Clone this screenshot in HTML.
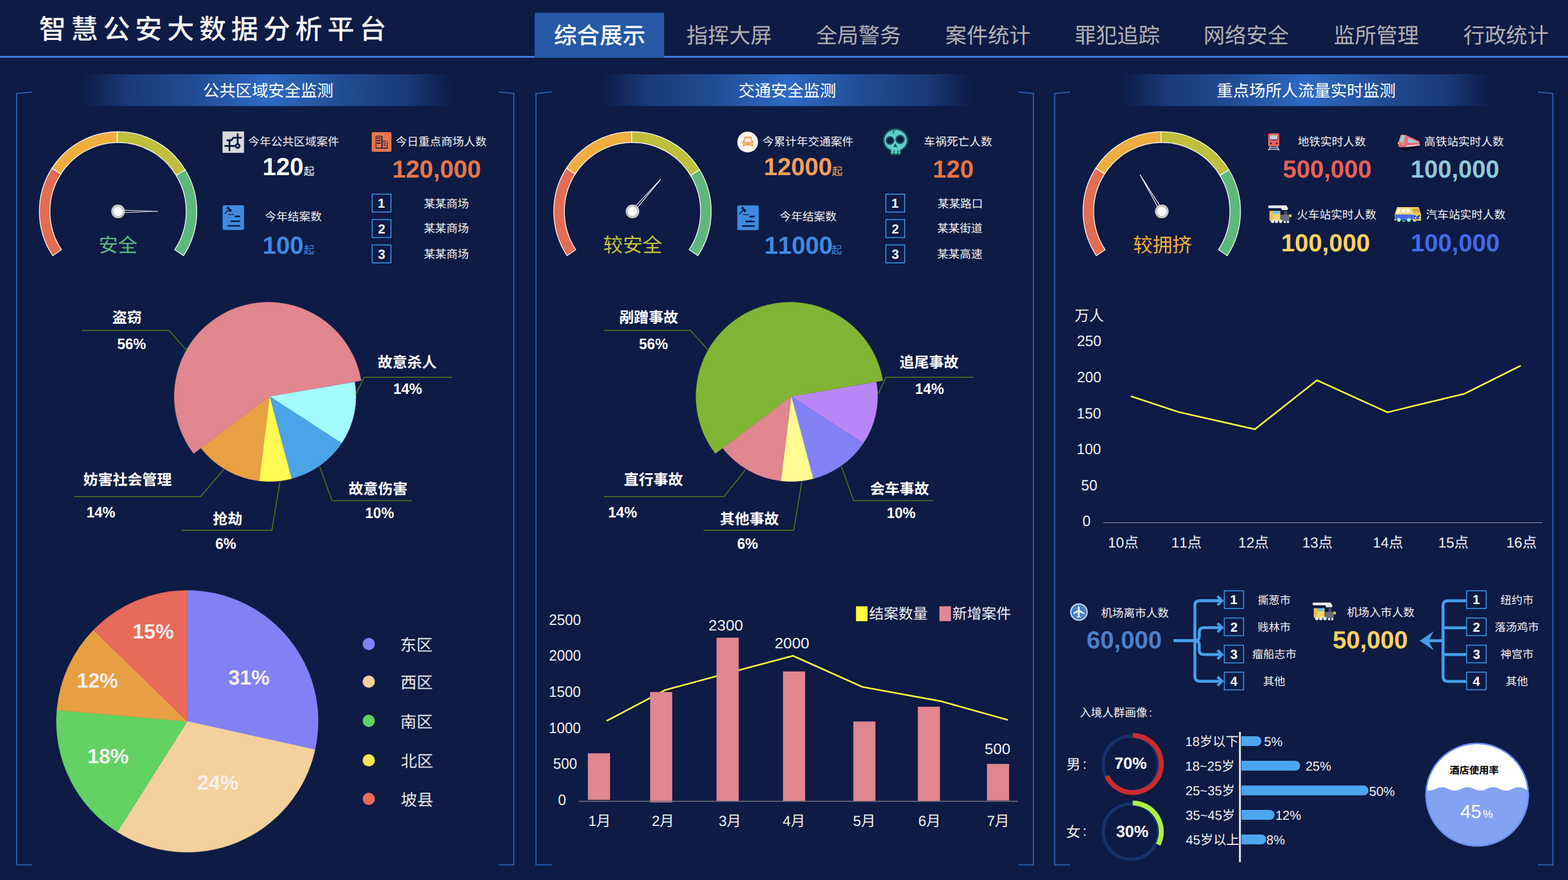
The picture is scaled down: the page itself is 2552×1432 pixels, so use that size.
<!DOCTYPE html>
<html lang="zh-CN"><head><meta charset="utf-8"><title>智慧公安大数据分析平台</title>
<style>
html,body{margin:0;padding:0;background:#0d1b45;}
body{width:2552px;height:1432px;overflow:hidden;font-family:"Liberation Sans","Noto Sans CJK SC",sans-serif;}
svg{display:block;position:absolute;left:0;top:0}
svg text{font-family:"Liberation Sans","Noto Sans CJK SC",sans-serif;font-kerning:none;text-rendering:geometricPrecision;white-space:pre}
</style></head><body>
<svg width="2552" height="1432" viewBox="0 0 2552 1432">
<rect width="2552" height="1432" fill="#0d1b45"/>
<rect x="0" y="91" width="2552" height="3" fill="#3a7be0"/>
<rect x="870.2" y="20.7" width="210.7" height="73.3" fill="#2658a6"/>
<text x="63.42" y="63.20" font-size="44.0" fill="#f6f6f6" font-weight="500" letter-spacing="8.14">智慧公安大数据分析平台</text>
<text x="901.47" y="70.60" font-size="37.3" fill="#ffffff" font-weight="500">综合展示</text>
<text x="1117.33" y="70.20" font-size="34.7" fill="#b1b1b3">指挥大屏</text>
<text x="1327.93" y="70.20" font-size="34.7" fill="#b1b1b3">全局警务</text>
<text x="1538.57" y="70.20" font-size="34.7" fill="#b1b1b3">案件统计</text>
<text x="1748.94" y="70.20" font-size="34.7" fill="#b1b1b3">罪犯追踪</text>
<text x="1958.82" y="70.20" font-size="34.7" fill="#b1b1b3">网络安全</text>
<text x="2170.47" y="70.20" font-size="34.7" fill="#b1b1b3">监所管理</text>
<text x="2381.73" y="70.20" font-size="34.7" fill="#b1b1b3">行政统计</text>
<defs><linearGradient id="band" x1="0" x2="1" y1="0" y2="0"><stop offset="0" stop-color="#2e6ac5" stop-opacity="0"/><stop offset="0.035" stop-color="#2e6ac5" stop-opacity="0.1"/><stop offset="0.12" stop-color="#2e6ac5" stop-opacity="0.38"/><stop offset="0.3" stop-color="#2e6ac5" stop-opacity="0.62"/><stop offset="0.5" stop-color="#2e6ac5" stop-opacity="1"/><stop offset="0.7" stop-color="#2e6ac5" stop-opacity="0.62"/><stop offset="0.88" stop-color="#2e6ac5" stop-opacity="0.38"/><stop offset="0.965" stop-color="#2e6ac5" stop-opacity="0.1"/><stop offset="1" stop-color="#2e6ac5" stop-opacity="0"/></linearGradient></defs>
<path d="M52.5 149.6L27.0 152V1407.3H52.5 M811.8 149.6L836.3 152V1407.3H811.8" fill="none" stroke="#2f63b5" stroke-width="1.8"/>
<rect x="132.5" y="120.8" width="606" height="51.8" fill="url(#band)"/>
<text x="330.46" y="157.10" font-size="26.5" fill="#ffffff">公共区域安全监测</text>
<path d="M897.9 149.6L872.4 152V1407.3H897.9 M1657.4 149.6L1681.9 152V1407.3H1657.4" fill="none" stroke="#2f63b5" stroke-width="1.8"/>
<rect x="978.3" y="120.8" width="606" height="51.8" fill="url(#band)"/>
<text x="1201.82" y="157.10" font-size="26.5" fill="#ffffff">交通安全监测</text>
<path d="M1742.0 149.6L1716.5 152V1407.3H1742.0 M2502.8 149.6L2527.3 152V1407.3H2502.8" fill="none" stroke="#2f63b5" stroke-width="1.8"/>
<rect x="1824.0" y="120.8" width="606" height="51.8" fill="url(#band)"/>
<text x="1980.00" y="157.10" font-size="26.5" fill="#ffffff">重点场所人流量实时监测</text>
<g transform="translate(192.20 344.00) scale(0.9885 1) translate(-192.20 -344.00)">
<path d="M84.50 416.10A129.60 129.60 0 0 1 83.39 273.60L97.99 283.06A112.20 112.20 0 0 0 98.96 406.42Z" fill="#e36d52" stroke="#fff" stroke-width="1.3" stroke-linejoin="miter"/>
<path d="M83.39 273.60A129.60 129.60 0 0 1 190.84 214.41L191.03 231.81A112.20 112.20 0 0 0 97.99 283.06Z" fill="#efad3f" stroke="#fff" stroke-width="1.3" stroke-linejoin="miter"/>
<path d="M190.84 214.41A129.60 129.60 0 0 1 302.82 276.48L287.97 285.54A112.20 112.20 0 0 0 191.03 231.81Z" fill="#bfbf3c" stroke="#fff" stroke-width="1.3" stroke-linejoin="miter"/>
<path d="M302.82 276.48A129.60 129.60 0 0 1 299.90 416.10L285.44 406.42A112.20 112.20 0 0 0 287.97 285.54Z" fill="#5eb87c" stroke="#fff" stroke-width="1.3" stroke-linejoin="miter"/>
</g>
<path d="M198.20 346.00L256.60 344.00L198.20 342.00Z" fill="#080e32" stroke="#fff" stroke-width="1.15" stroke-linejoin="round"/>
<circle cx="192.2" cy="344.0" r="9.3" fill="#fff" stroke="#c6c6c6" stroke-width="3.7"/>
<text x="160.47" y="409.50" font-size="31.6" fill="#5eb87c">安全</text>
<g transform="translate(1029.40 344.00) scale(0.9885 1) translate(-1029.40 -344.00)">
<path d="M921.70 416.10A129.60 129.60 0 0 1 920.59 273.60L935.19 283.06A112.20 112.20 0 0 0 936.16 406.42Z" fill="#e36d52" stroke="#fff" stroke-width="1.3" stroke-linejoin="miter"/>
<path d="M920.59 273.60A129.60 129.60 0 0 1 1028.04 214.41L1028.23 231.81A112.20 112.20 0 0 0 935.19 283.06Z" fill="#efad3f" stroke="#fff" stroke-width="1.3" stroke-linejoin="miter"/>
<path d="M1028.04 214.41A129.60 129.60 0 0 1 1140.02 276.48L1125.17 285.54A112.20 112.20 0 0 0 1028.23 231.81Z" fill="#bfbf3c" stroke="#fff" stroke-width="1.3" stroke-linejoin="miter"/>
<path d="M1140.02 276.48A129.60 129.60 0 0 1 1137.10 416.10L1122.64 406.42A112.20 112.20 0 0 0 1125.17 285.54Z" fill="#5eb87c" stroke="#fff" stroke-width="1.3" stroke-linejoin="miter"/>
</g>
<path d="M1034.86 340.81L1075.20 291.86L1031.86 338.17Z" fill="#080e32" stroke="#fff" stroke-width="1.15" stroke-linejoin="round"/>
<circle cx="1029.4" cy="344.0" r="9.3" fill="#fff" stroke="#c6c6c6" stroke-width="3.7"/>
<text x="981.73" y="409.50" font-size="32.0" fill="#c8c23a">较安全</text>
<g transform="translate(1890.90 344.00) scale(0.9885 1) translate(-1890.90 -344.00)">
<path d="M1783.20 416.10A129.60 129.60 0 0 1 1782.09 273.60L1796.69 283.06A112.20 112.20 0 0 0 1797.66 406.42Z" fill="#e36d52" stroke="#fff" stroke-width="1.3" stroke-linejoin="miter"/>
<path d="M1782.09 273.60A129.60 129.60 0 0 1 1889.54 214.41L1889.73 231.81A112.20 112.20 0 0 0 1796.69 283.06Z" fill="#efad3f" stroke="#fff" stroke-width="1.3" stroke-linejoin="miter"/>
<path d="M1889.54 214.41A129.60 129.60 0 0 1 2001.52 276.48L1986.67 285.54A112.20 112.20 0 0 0 1889.73 231.81Z" fill="#bfbf3c" stroke="#fff" stroke-width="1.3" stroke-linejoin="miter"/>
<path d="M2001.52 276.48A129.60 129.60 0 0 1 1998.60 416.10L1984.14 406.42A112.20 112.20 0 0 0 1986.67 285.54Z" fill="#5eb87c" stroke="#fff" stroke-width="1.3" stroke-linejoin="miter"/>
</g>
<path d="M1889.56 337.82L1855.47 284.33L1886.12 339.86Z" fill="#080e32" stroke="#fff" stroke-width="1.15" stroke-linejoin="round"/>
<circle cx="1890.9" cy="344.0" r="9.3" fill="#fff" stroke="#c6c6c6" stroke-width="3.7"/>
<text x="1843.91" y="409.50" font-size="32.0" fill="#f0ad3c">较拥挤</text>
<text x="404.05" y="237.30" font-size="18.5" fill="#f0f0f0">今年公共区域案件</text>
<text x="427.18" y="285.00" font-size="40.00" fill="#fff" font-weight="700">120</text>
<text x="494.34" y="285.00" font-size="17.6" fill="#fff">起</text>
<text x="431.35" y="358.80" font-size="18.5" fill="#f0f0f0">今年结案数</text>
<text x="427.18" y="413.20" font-size="40.00" fill="#3f8ae0" font-weight="700">100</text>
<text x="494.34" y="413.40" font-size="17.6" fill="#3f8ae0">起</text>
<text x="644.05" y="237.30" font-size="18.5" fill="#f0f0f0">今日重点商场人数</text>
<text x="638.18" y="289.40" font-size="40.00" fill="#e8764a" font-weight="700">120,000</text>
<rect x="605.65" y="315.85" width="30.65" height="29.20" fill="none" stroke="#3d9be8" stroke-width="1.5"/>
<text x="614.71" y="338.05" font-size="21.20" fill="#fff" font-weight="700">1</text>
<text x="689.66" y="337.50" font-size="18.4" fill="#f0f0f0">某某商场</text>
<rect x="605.65" y="357.35" width="30.65" height="29.20" fill="none" stroke="#3d9be8" stroke-width="1.5"/>
<text x="615.14" y="379.55" font-size="21.20" fill="#fff" font-weight="700">2</text>
<text x="689.66" y="378.00" font-size="18.4" fill="#f0f0f0">某某商场</text>
<rect x="605.65" y="398.55" width="30.65" height="29.20" fill="none" stroke="#3d9be8" stroke-width="1.5"/>
<text x="615.22" y="420.75" font-size="21.20" fill="#fff" font-weight="700">3</text>
<text x="689.66" y="419.60" font-size="18.4" fill="#f0f0f0">某某商场</text>
<text x="1241.05" y="237.30" font-size="18.5" fill="#f0f0f0">今累计年交通案件</text>
<text x="1243.08" y="285.30" font-size="40.00" fill="#f0a05a" font-weight="700">12000</text>
<text x="1353.94" y="285.30" font-size="17.6" fill="#f0a05a">起</text>
<text x="1269.05" y="358.80" font-size="18.5" fill="#f0f0f0">今年结案数</text>
<text x="1244.08" y="413.20" font-size="40.00" fill="#3f8ae0" font-weight="700">11000</text>
<text x="1352.94" y="413.40" font-size="17.6" fill="#3f8ae0">起</text>
<text x="1503.67" y="237.30" font-size="18.5" fill="#f0f0f0">车祸死亡人数</text>
<text x="1517.98" y="289.40" font-size="40.00" fill="#e8743f" font-weight="700">120</text>
<rect x="1441.75" y="315.85" width="30.65" height="29.20" fill="none" stroke="#3d9be8" stroke-width="1.5"/>
<text x="1450.81" y="338.05" font-size="21.20" fill="#fff" font-weight="700">1</text>
<text x="1526.00" y="337.50" font-size="18.4" fill="#f0f0f0">某某路口</text>
<rect x="1441.75" y="357.35" width="30.65" height="29.20" fill="none" stroke="#3d9be8" stroke-width="1.5"/>
<text x="1451.24" y="379.55" font-size="21.20" fill="#fff" font-weight="700">2</text>
<text x="1525.21" y="378.00" font-size="18.4" fill="#f0f0f0">某某街道</text>
<rect x="1441.75" y="398.55" width="30.65" height="29.20" fill="none" stroke="#3d9be8" stroke-width="1.5"/>
<text x="1451.32" y="420.75" font-size="21.20" fill="#fff" font-weight="700">3</text>
<text x="1525.21" y="419.60" font-size="18.4" fill="#f0f0f0">某某高速</text>
<text x="2111.89" y="237.30" font-size="18.5" fill="#f0f0f0">地铁实时人数</text>
<text x="2087.77" y="289.30" font-size="40.00" fill="#e86058" font-weight="700">500,000</text>
<text x="2318.11" y="237.30" font-size="18.5" fill="#f0f0f0">高铁站实时人数</text>
<text x="2295.68" y="289.30" font-size="40.00" fill="#8fc8d8" font-weight="700">100,000</text>
<text x="2110.56" y="355.70" font-size="18.5" fill="#f0f0f0">火车站实时人数</text>
<text x="2085.08" y="409.40" font-size="40.00" fill="#fdd15e" font-weight="700">100,000</text>
<text x="2320.82" y="355.70" font-size="18.5" fill="#f0f0f0">汽车站实时人数</text>
<text x="2296.08" y="409.40" font-size="40.00" fill="#4569e8" font-weight="700">100,000</text>
<g transform="translate(438.70 645.00) scale(1.0075 0.9925) translate(-438.70 -645.00)">
<path d="M438.70 645.00L576.16 621.26A139.50 139.50 0 0 1 555.16 721.79Z" fill="#a3fbff" stroke="#a3fbff" stroke-width="0.5"/>
<path d="M438.70 645.00L555.16 721.79A139.50 139.50 0 0 1 474.10 779.93Z" fill="#4ba3e8" stroke="#4ba3e8" stroke-width="0.5"/>
<path d="M438.70 645.00L474.10 779.93A139.50 139.50 0 0 1 421.94 783.49Z" fill="#fffb52" stroke="#fffb52" stroke-width="0.5"/>
<path d="M438.70 645.00L421.94 783.49A139.50 139.50 0 0 1 327.73 729.54Z" fill="#e8a043" stroke="#e8a043" stroke-width="0.5"/>
</g>
<path d="M438.70 645.00L587.70 619.30A153.1 153.1 0 1 0 315.20 738.00Z" fill="#e0878f" stroke="#e0878f" stroke-width="0.5"/>
<polyline points="133.0,537.6 275.0,537.6 303.6,570.0" fill="none" stroke="#4d7020" stroke-width="1.7"/>
<polyline points="579.2,642.2 592.7,613.9 735.4,613.9" fill="none" stroke="#4d7020" stroke-width="1.7"/>
<polyline points="520.1,759.1 540.5,814.7 670.3,814.7" fill="none" stroke="#4d7020" stroke-width="1.7"/>
<polyline points="455.7,783.6 442.5,862.8 295.8,862.8" fill="none" stroke="#4d7020" stroke-width="1.7"/>
<polyline points="364.0,764.4 326.2,808.1 120.4,808.1" fill="none" stroke="#4d7020" stroke-width="1.7"/>
<text x="182.69" y="525.30" font-size="24.0" fill="#fff" font-weight="700">盗窃</text>
<text transform="translate(190.64 568.30) scale(0.9550 1)" font-size="24.60" fill="#fff" font-weight="700">56%</text>
<text x="614.69" y="598.40" font-size="24.0" fill="#fff" font-weight="700">故意杀人</text>
<text transform="translate(639.96 640.60) scale(0.9550 1)" font-size="24.60" fill="#fff" font-weight="700">14%</text>
<text x="567.26" y="803.70" font-size="24.0" fill="#fff" font-weight="700">故意伤害</text>
<text transform="translate(594.26 842.60) scale(0.9550 1)" font-size="24.60" fill="#fff" font-weight="700">10%</text>
<text x="346.45" y="853.00" font-size="24.0" fill="#fff" font-weight="700">抢劫</text>
<text transform="translate(350.50 892.90) scale(0.9550 1)" font-size="24.60" fill="#fff" font-weight="700">6%</text>
<text x="135.62" y="789.30" font-size="24.0" fill="#fff" font-weight="700">妨害社会管理</text>
<text transform="translate(140.66 841.70) scale(0.9550 1)" font-size="24.60" fill="#fff" font-weight="700">14%</text>
<g transform="translate(1287.80 645.00) scale(1.0075 0.9925) translate(-1287.80 -645.00)">
<path d="M1287.80 645.00L1425.26 621.26A139.50 139.50 0 0 1 1404.26 721.79Z" fill="#b986f7" stroke="#b986f7" stroke-width="0.5"/>
<path d="M1287.80 645.00L1404.26 721.79A139.50 139.50 0 0 1 1323.20 779.93Z" fill="#8181f5" stroke="#8181f5" stroke-width="0.5"/>
<path d="M1287.80 645.00L1323.20 779.93A139.50 139.50 0 0 1 1271.04 783.49Z" fill="#fffc92" stroke="#fffc92" stroke-width="0.5"/>
<path d="M1287.80 645.00L1271.04 783.49A139.50 139.50 0 0 1 1176.83 729.54Z" fill="#e0878f" stroke="#e0878f" stroke-width="0.5"/>
</g>
<path d="M1287.80 645.00L1436.80 619.30A153.1 153.1 0 1 0 1164.30 738.00Z" fill="#82b436" stroke="#82b436" stroke-width="0.5"/>
<polyline points="982.4,537.6 1123.8,537.6 1152.7,570.0" fill="none" stroke="#4d7020" stroke-width="1.7"/>
<polyline points="1428.6,642.2 1442.2,613.9 1584.7,613.9" fill="none" stroke="#4d7020" stroke-width="1.7"/>
<polyline points="1369.5,759.1 1389.3,814.7 1519.4,814.7" fill="none" stroke="#4d7020" stroke-width="1.7"/>
<polyline points="1305.0,783.6 1291.9,862.8 1144.8,862.8" fill="none" stroke="#4d7020" stroke-width="1.7"/>
<polyline points="1213.3,764.4 1178.4,808.1 983.0,808.1" fill="none" stroke="#4d7020" stroke-width="1.7"/>
<text x="1007.66" y="525.30" font-size="24.0" fill="#fff" font-weight="700">剐蹭事故</text>
<text transform="translate(1040.04 568.30) scale(0.9550 1)" font-size="24.60" fill="#fff" font-weight="700">56%</text>
<text x="1463.98" y="598.40" font-size="24.0" fill="#fff" font-weight="700">追尾事故</text>
<text transform="translate(1489.36 640.60) scale(0.9550 1)" font-size="24.60" fill="#fff" font-weight="700">14%</text>
<text x="1416.00" y="803.70" font-size="24.0" fill="#fff" font-weight="700">会车事故</text>
<text transform="translate(1443.16 842.60) scale(0.9550 1)" font-size="24.60" fill="#fff" font-weight="700">10%</text>
<text x="1171.68" y="853.00" font-size="24.0" fill="#fff" font-weight="700">其他事故</text>
<text transform="translate(1199.80 892.90) scale(0.9550 1)" font-size="24.60" fill="#fff" font-weight="700">6%</text>
<text x="1015.42" y="789.30" font-size="24.0" fill="#fff" font-weight="700">直行事故</text>
<text transform="translate(989.76 841.70) scale(0.9550 1)" font-size="24.60" fill="#fff" font-weight="700">14%</text>
<path d="M304.80 1173.80L304.80 960.80A213.00 213.00 0 0 1 512.75 1219.90Z" fill="#8181f5" stroke="#8181f5" stroke-width="0.5"/>
<path d="M304.80 1173.80L512.75 1219.90A213.00 213.00 0 0 1 190.98 1353.84Z" fill="#f4d09c" stroke="#f4d09c" stroke-width="0.5"/>
<path d="M304.80 1173.80L190.98 1353.84A213.00 213.00 0 0 1 92.58 1155.61Z" fill="#62d262" stroke="#62d262" stroke-width="0.5"/>
<path d="M304.80 1173.80L92.58 1155.61A213.00 213.00 0 0 1 152.10 1025.30Z" fill="#e89f44" stroke="#e89f44" stroke-width="0.5"/>
<path d="M304.80 1173.80L152.10 1025.30A213.00 213.00 0 0 1 304.80 960.80Z" fill="#e86a5a" stroke="#e86a5a" stroke-width="0.5"/>
<text x="371.63" y="1114.30" font-size="33.60" fill="#f6efef" font-weight="700">31%</text>
<text x="215.66" y="1038.90" font-size="33.60" fill="#f6efef" font-weight="700">15%</text>
<text x="124.96" y="1119.40" font-size="33.60" fill="#f6efef" font-weight="700">12%</text>
<text x="142.26" y="1242.40" font-size="33.60" fill="#f6efef" font-weight="700">18%</text>
<text x="321.14" y="1285.20" font-size="33.60" fill="#f6efef" font-weight="700">24%</text>
<circle cx="600.2" cy="1048.0" r="10" fill="#8181f5"/>
<text x="651.33" y="1058.70" font-size="26.4" fill="#e8e8e8">东区</text>
<circle cx="600.2" cy="1109.3" r="10" fill="#f4d09c"/>
<text x="651.64" y="1120.00" font-size="26.4" fill="#e8e8e8">西区</text>
<circle cx="600.2" cy="1173.0" r="10" fill="#62d262"/>
<text x="651.62" y="1183.70" font-size="26.4" fill="#e8e8e8">南区</text>
<circle cx="600.2" cy="1237.3" r="10" fill="#fbe44e"/>
<text x="652.30" y="1248.00" font-size="26.4" fill="#e8e8e8">北区</text>
<circle cx="600.2" cy="1300.0" r="10" fill="#e86a5a"/>
<text x="652.30" y="1310.70" font-size="26.4" fill="#e8e8e8">坡县</text>
<polyline points="987.2,1173.2 1082.2,1123 1184,1095.5 1290.7,1067.2 1403.5,1117.7 1532,1141.2 1640.2,1171.6" fill="none" stroke="#fffb3f" stroke-width="2.6" stroke-linejoin="miter"/>
<rect x="956.8" y="1225.8" width="36.1" height="75.9" fill="#e0878f"/>
<rect x="1058.1" y="1126.1" width="36.0" height="179.7" fill="#e0878f"/>
<rect x="1166.2" y="1037.7" width="36.1" height="266.2" fill="#e0878f"/>
<rect x="1274.4" y="1092.6" width="36.0" height="211.3" fill="#e0878f"/>
<rect x="1388.8" y="1174.1" width="36.0" height="129.8" fill="#e0878f"/>
<rect x="1493.8" y="1150.0" width="36.0" height="153.9" fill="#e0878f"/>
<rect x="1606.3" y="1243.1" width="36.1" height="59.5" fill="#e0878f"/>
<rect x="942" y="1303.1" width="714.8" height="1.6" fill="#6f6f7c"/>
<text transform="translate(893.57 1017.20) scale(0.9500 1)" font-size="24.60" fill="#f0f0f0">2500</text>
<text transform="translate(893.57 1074.50) scale(0.9500 1)" font-size="24.60" fill="#f0f0f0">2000</text>
<text transform="translate(893.27 1134.20) scale(0.9500 1)" font-size="24.60" fill="#f0f0f0">1500</text>
<text transform="translate(893.27 1192.80) scale(0.9500 1)" font-size="24.60" fill="#f0f0f0">1000</text>
<text transform="translate(900.19 1250.80) scale(0.9500 1)" font-size="24.60" fill="#f0f0f0">500</text>
<text transform="translate(908.30 1309.70) scale(0.9500 1)" font-size="24.60" fill="#f0f0f0">0</text>
<text x="957.42" y="1344.30" font-size="23.50" fill="#f0f0f0">1</text><text x="970.5" y="1344.3" font-size="23.5" fill="#f0f0f0">月</text>
<text x="1060.73" y="1344.30" font-size="23.50" fill="#f0f0f0">2</text><text x="1073.8" y="1344.3" font-size="23.5" fill="#f0f0f0">月</text>
<text x="1169.67" y="1344.30" font-size="23.50" fill="#f0f0f0">3</text><text x="1182.7" y="1344.3" font-size="23.5" fill="#f0f0f0">月</text>
<text x="1273.85" y="1344.30" font-size="23.50" fill="#f0f0f0">4</text><text x="1286.9" y="1344.3" font-size="23.5" fill="#f0f0f0">月</text>
<text x="1388.35" y="1344.30" font-size="23.50" fill="#f0f0f0">5</text><text x="1401.4" y="1344.3" font-size="23.5" fill="#f0f0f0">月</text>
<text x="1494.52" y="1344.30" font-size="23.50" fill="#f0f0f0">6</text><text x="1507.6" y="1344.3" font-size="23.5" fill="#f0f0f0">月</text>
<text x="1606.22" y="1344.30" font-size="23.50" fill="#f0f0f0">7</text><text x="1619.3" y="1344.3" font-size="23.5" fill="#f0f0f0">月</text>
<text transform="translate(1152.89 1026.20) scale(1.0500 1)" font-size="24.20" fill="#f0f0f0">2300</text>
<text transform="translate(1260.69 1055.00) scale(1.0500 1)" font-size="24.20" fill="#f0f0f0">2000</text>
<text transform="translate(1602.59 1226.50) scale(1.0400 1)" font-size="24.20" fill="#f0f0f0">500</text>
<rect x="1393.2" y="986.6" width="18.8" height="24.2" fill="#fffb3f"/>
<rect x="1528.9" y="986.6" width="18.8" height="24.2" fill="#e0878f"/>
<text x="1414.38" y="1006.60" font-size="23.9" fill="#f0f0f0">结案数量</text>
<text x="1549.82" y="1006.60" font-size="23.9" fill="#f0f0f0">新增案件</text>
<text x="1749.09" y="521.90" font-size="23.8" fill="#f0f0f0">万人</text>
<text transform="translate(1752.68 563.20) scale(0.9850 1)" font-size="24.20" fill="#f0f0f0">250</text>
<text transform="translate(1752.68 621.60) scale(0.9850 1)" font-size="24.20" fill="#f0f0f0">200</text>
<text transform="translate(1752.37 680.70) scale(0.9850 1)" font-size="24.20" fill="#f0f0f0">150</text>
<text transform="translate(1752.37 738.60) scale(0.9850 1)" font-size="24.20" fill="#f0f0f0">100</text>
<text transform="translate(1759.43 797.70) scale(0.9850 1)" font-size="24.20" fill="#f0f0f0">50</text>
<text transform="translate(1761.67 856.20) scale(0.9850 1)" font-size="24.20" fill="#f0f0f0">0</text>
<rect x="1795.5" y="850" width="715" height="1.1" fill="#8a8a90"/>
<polyline points="1840.5,644.8 1918.3,670.5 2042.3,698.5 2143.5,618.8 2258.2,670.9 2383.5,640.7 2475.1,595" fill="none" stroke="#fffb3f" stroke-width="2.6"/>
<text x="1803.26" y="891.40" font-size="23.50" fill="#f0f0f0">10</text><text x="1829.4" y="891.4" font-size="23.5" fill="#f0f0f0">点</text>
<text x="1906.16" y="891.40" font-size="23.50" fill="#f0f0f0">11</text><text x="1932.3" y="891.4" font-size="23.5" fill="#f0f0f0">点</text>
<text x="2015.36" y="891.40" font-size="23.50" fill="#f0f0f0">12</text><text x="2041.5" y="891.4" font-size="23.5" fill="#f0f0f0">点</text>
<text x="2119.46" y="891.40" font-size="23.50" fill="#f0f0f0">13</text><text x="2145.6" y="891.4" font-size="23.5" fill="#f0f0f0">点</text>
<text x="2234.16" y="891.40" font-size="23.50" fill="#f0f0f0">14</text><text x="2260.3" y="891.4" font-size="23.5" fill="#f0f0f0">点</text>
<text x="2340.66" y="891.40" font-size="23.50" fill="#f0f0f0">15</text><text x="2366.8" y="891.4" font-size="23.5" fill="#f0f0f0">点</text>
<text x="2451.56" y="891.40" font-size="23.50" fill="#f0f0f0">16</text><text x="2477.7" y="891.4" font-size="23.5" fill="#f0f0f0">点</text>
<text x="1791.88" y="1003.60" font-size="18.4" fill="#f0f0f0">机场离市人数</text>
<text x="1768.54" y="1055.30" font-size="40.00" fill="#4a7fc8" font-weight="700">60,000</text>
<g fill="none" stroke="#459fe8" stroke-width="4.8" stroke-linejoin="round">
<path d="M1910 1042.5H1944.7"/>
<path d="M1987 977.5H1952.7Q1944.7 977.5 1944.7 985.5V1100.6Q1944.7 1108.6 1952.7 1108.6H1987"/>
<path d="M1944.7 1042.5Q1951.8 1042.5 1951.8 1035.5V1029.3Q1951.8 1021.3 1959.8 1021.3H1987M1944.7 1042.5Q1951.8 1042.5 1951.8 1049.5V1057.2Q1951.8 1065.2 1959.8 1065.2H1987"/>
<path d="M1981.6 970.3L1988.8 977.5L1981.6 984.7" stroke-linejoin="miter" stroke-width="4.4"/>
<path d="M1981.6 1014.1L1988.8 1021.3L1981.6 1028.5" stroke-linejoin="miter" stroke-width="4.4"/>
<path d="M1981.6 1058.0L1988.8 1065.2L1981.6 1072.4" stroke-linejoin="miter" stroke-width="4.4"/>
<path d="M1981.6 1101.4L1988.8 1108.6L1981.6 1115.8" stroke-linejoin="miter" stroke-width="4.4"/>
</g>
<rect x="1992.55" y="961.45" width="31.40" height="28.80" fill="none" stroke="#3d9be8" stroke-width="1.5"/>
<text x="2001.98" y="983.45" font-size="21.20" fill="#fff" font-weight="700">1</text>
<text x="2046.89" y="982.75" font-size="18.0" fill="#f0f0f0">撕葱市</text>
<rect x="1992.55" y="1005.65" width="31.40" height="28.80" fill="none" stroke="#3d9be8" stroke-width="1.5"/>
<text x="2002.41" y="1027.65" font-size="21.20" fill="#fff" font-weight="700">2</text>
<text x="2046.85" y="1026.95" font-size="18.0" fill="#f0f0f0">贱林市</text>
<rect x="1992.55" y="1049.85" width="31.40" height="28.80" fill="none" stroke="#3d9be8" stroke-width="1.5"/>
<text x="2002.49" y="1071.85" font-size="21.20" fill="#fff" font-weight="700">3</text>
<text x="2037.94" y="1071.15" font-size="18.0" fill="#f0f0f0">瘤船志市</text>
<rect x="1992.55" y="1093.75" width="31.40" height="28.80" fill="none" stroke="#3d9be8" stroke-width="1.5"/>
<text x="2002.25" y="1115.75" font-size="21.20" fill="#fff" font-weight="700">4</text>
<text x="2055.73" y="1115.05" font-size="18.0" fill="#f0f0f0">其他</text>
<text x="2191.88" y="1002.60" font-size="18.4" fill="#f0f0f0">机场入市人数</text>
<text x="2168.97" y="1055.30" font-size="40.00" fill="#fdd15e" font-weight="700">50,000</text>
<g fill="none" stroke="#459fe8" stroke-width="4.8">
<path d="M2386.3 977.6H2356.6Q2348.6 977.6 2348.6 985.6V1100.8Q2348.6 1108.8 2356.6 1108.8H2386.3M2348.6 1021.6H2386.3M2348.6 1065.2H2386.3M2324 1042.7H2348.6"/>
</g>
<path d="M2310.6 1042.7L2334 1027Q2328 1036 2325.5 1042.7Q2328 1049.5 2334 1058.6Z" fill="#459fe8"/>
<rect x="2387.05" y="961.45" width="31.70" height="28.70" fill="none" stroke="#3d9be8" stroke-width="1.5"/>
<text x="2396.63" y="983.40" font-size="21.20" fill="#fff" font-weight="700">1</text>
<text x="2441.94" y="982.75" font-size="18.0" fill="#f0f0f0">纽约市</text>
<rect x="2387.05" y="1005.65" width="31.70" height="28.70" fill="none" stroke="#3d9be8" stroke-width="1.5"/>
<text x="2397.06" y="1027.60" font-size="21.20" fill="#fff" font-weight="700">2</text>
<text x="2432.87" y="1026.95" font-size="18.0" fill="#f0f0f0">落汤鸡市</text>
<rect x="2387.05" y="1049.85" width="31.70" height="28.70" fill="none" stroke="#3d9be8" stroke-width="1.5"/>
<text x="2397.14" y="1071.80" font-size="21.20" fill="#fff" font-weight="700">3</text>
<text x="2441.95" y="1071.15" font-size="18.0" fill="#f0f0f0">神宫市</text>
<rect x="2387.05" y="1093.75" width="31.70" height="28.70" fill="none" stroke="#3d9be8" stroke-width="1.5"/>
<text x="2396.90" y="1115.70" font-size="21.20" fill="#fff" font-weight="700">4</text>
<text x="2450.73" y="1115.05" font-size="18.0" fill="#f0f0f0">其他</text>
<text x="1757.15" y="1166.30" font-size="18.4" fill="#f0f0f0">入境人群画像</text>
<text x="1870.05" y="1166.30" font-size="18.40" fill="#f0f0f0">:</text>
<circle cx="1840.5" cy="1243.2" r="45.1" fill="none" stroke="#17326b" stroke-width="5.2"/>
<path d="M1843.60 1196.70A46.50 46.50 0 1 1 1801.46 1262.85" fill="none" stroke="#cb2c2c" stroke-width="8"/>
<circle cx="1840.5" cy="1353.2" r="45.1" fill="none" stroke="#17326b" stroke-width="5.2"/>
<path d="M1843.60 1306.70A46.50 46.50 0 0 1 1885.03 1374.31" fill="none" stroke="#aef03f" stroke-width="8"/>
<text x="1735.40" y="1251.90" font-size="23.2" fill="#f0f0f0">男</text>
<text x="1762.20" y="1250.50" font-size="22.50" fill="#f0f0f0">:</text>
<text x="1735.33" y="1361.50" font-size="23.2" fill="#f0f0f0">女</text>
<text x="1762.13" y="1360.10" font-size="22.50" fill="#f0f0f0">:</text>
<text x="1813.66" y="1251.40" font-size="26.40" fill="#fff" font-weight="700">70%</text>
<text x="1816.43" y="1362.00" font-size="26.40" fill="#fff" font-weight="700">30%</text>
<rect x="2016.6" y="1191" width="2.9" height="212" fill="#f2f2f2"/>
<path d="M2020.5 1197.9H2045.0A8 8 0 0 1 2045.0 1213.9H2020.5Z" fill="#4ba6ee"/>
<text x="1928.99" y="1213.70" font-size="21.10" fill="#f0f0f0">18</text><text x="1952.5" y="1213.7" font-size="21.1" fill="#f0f0f0">岁以下</text>
<text x="2057.16" y="1214.10" font-size="21.00" fill="#f0f0f0">5%</text>
<path d="M2020.5 1238.1H2108.1A8 8 0 0 1 2108.1 1254.1H2020.5Z" fill="#4ba6ee"/>
<text x="1928.99" y="1253.90" font-size="21.10" fill="#f0f0f0">18~25</text><text x="1988.3" y="1253.9" font-size="21.1" fill="#f0f0f0">岁</text>
<text x="2124.64" y="1254.30" font-size="21.00" fill="#f0f0f0">25%</text>
<path d="M2020.5 1278.3H2219.3A8 8 0 0 1 2219.3 1294.3H2020.5Z" fill="#4ba6ee"/>
<text x="1929.54" y="1294.10" font-size="21.10" fill="#f0f0f0">25~35</text><text x="1988.8" y="1294.1" font-size="21.1" fill="#f0f0f0">岁</text>
<text x="2228.26" y="1294.50" font-size="21.00" fill="#f0f0f0">50%</text>
<path d="M2020.5 1318.0H2066.5A8 8 0 0 1 2066.5 1334.0H2020.5Z" fill="#4ba6ee"/>
<text x="1929.80" y="1333.80" font-size="21.10" fill="#f0f0f0">35~45</text><text x="1989.1" y="1333.8" font-size="21.1" fill="#f0f0f0">岁</text>
<text x="2075.70" y="1334.20" font-size="21.00" fill="#f0f0f0">12%</text>
<path d="M2020.5 1358.0H2052.9A8 8 0 0 1 2052.9 1374.0H2020.5Z" fill="#4ba6ee"/>
<text x="1930.12" y="1373.80" font-size="21.10" fill="#f0f0f0">45</text><text x="1953.6" y="1373.8" font-size="21.1" fill="#f0f0f0">岁以上</text>
<text x="2061.09" y="1374.20" font-size="21.00" fill="#f0f0f0">8%</text>
<clipPath id="lq"><circle cx="2404.1" cy="1293.2" r="83"/></clipPath>
<circle cx="2404.1" cy="1293.2" r="83.3" fill="#fff" stroke="#6a8ff2" stroke-width="2.2"/>
<path d="M2284.6 1286.6C2293.6 1286.6 2296.6 1281 2305.4 1281C2314.2 1281 2317.2 1286.6 2326.2 1286.6C2335.2 1286.6 2338.2 1281 2347.0 1281C2355.8 1281 2358.8 1286.6 2367.8 1286.6C2376.8 1286.6 2379.8 1281 2388.6 1281C2397.4 1281 2400.4 1286.6 2409.4 1286.6C2418.4 1286.6 2421.4 1281 2430.2 1281C2439.0 1281 2442.0 1286.6 2451.0 1286.6C2460.0 1286.6 2463.0 1281 2471.8 1281C2480.6 1281 2483.6 1286.6 2492.6 1286.6C2501.6 1286.6 2504.6 1281 2513.4 1281C2522.2 1281 2525.2 1286.6 2534.2 1286.6V1400H2300Z" fill="#84a2f2" clip-path="url(#lq)"/>
<circle cx="2404.1" cy="1293.2" r="83.3" fill="none" stroke="#6a8ff2" stroke-width="2.2"/>
<text x="2359.14" y="1258.70" font-size="16.0" fill="#000" font-weight="700">酒店使用率</text>
<text x="2377.00" y="1330.90" font-size="30.40" fill="#fff">45</text>
<text x="2413.44" y="1331.00" font-size="18.50" fill="#fff">%</text>
<g transform="translate(362.2 213.9)">
<rect width="35" height="34.8" fill="#d9d9d9"/>
<g fill="none" stroke="#0b1a45" stroke-width="2.9">
<path d="M24.6 3.3V20 M31.4 10.2H17.6L14.2 14.4H6.6 M11.3 14.4V31.8 M3.3 23.6H20.6"/>
<circle cx="24.6" cy="23.7" r="3.1"/>
</g></g>
<g transform="translate(362.3 333.9)">
<rect width="34.9" height="40.3" rx="2.6" fill="#3f8ade"/>
<g stroke="#0b1a45" stroke-linecap="round" fill="none">
<path d="M3.8 13.6L10.6 6.8" stroke-width="1.7"/>
<path d="M7.2 4.9L9.4 2.9M11.9 10L14 8" stroke-width="2.3"/>
<path d="M9.3 5.3L12.3 8.3" stroke-width="3.2" stroke-linecap="butt"/>
<path d="M9.6 15.2H18" stroke-width="1.4"/>
<path d="M21 18.2H27.4M14.4 26.1H27.4M9.1 33.6H27.4" stroke-width="2.7"/>
</g></g>
<g transform="translate(1199.9 334.2)">
<rect width="34.9" height="40.3" rx="2.6" fill="#3f8ade"/>
<g stroke="#0b1a45" stroke-linecap="round" fill="none">
<path d="M3.8 13.6L10.6 6.8" stroke-width="1.7"/>
<path d="M7.2 4.9L9.4 2.9M11.9 10L14 8" stroke-width="2.3"/>
<path d="M9.3 5.3L12.3 8.3" stroke-width="3.2" stroke-linecap="butt"/>
<path d="M9.6 15.2H18" stroke-width="1.4"/>
<path d="M21 18.2H27.4M14.4 26.1H27.4M9.1 33.6H27.4" stroke-width="2.7"/>
</g></g>
<g transform="translate(605.0 215.1)">
<rect width="32.1" height="32" rx="2.2" fill="#e8754b"/>
<g fill="none" stroke="#0b1a45">
<path d="M6.9 25.8V6.5H16.4" stroke-width="1"/>
<path d="M16.6 6.2V26" stroke-width="1.8"/>
<path d="M6.6 25.9H25.6" stroke-width="1.6"/>
<path d="M16.9 14.4H23.5L25.4 16.2V25.9" stroke-width="1"/>
<path d="M8.6 9.4H14M8.6 13.6H14M8.6 17.8H14" stroke-width="1.7" stroke-linecap="round"/>
<path d="M19.2 17.2H23M19.2 19.4H23M19.2 21.6H23" stroke-width="0.9"/>
</g></g>
<g transform="translate(1216.9 231.2)">
<circle r="16.9" fill="#fef4ea"/>
<path d="M-8 -2.6L-6.4 -2.8L-5.6 -7.2Q-5.2 -9 -3.2 -9H4.2Q6.2 -9 6.6 -7.2L7.4 -2.8L9 -2.6V7Q9 7.8 8.2 7.8H7.2Q6.4 7.8 6.4 7V5.7H-5.4V7Q-5.4 7.8 -6.2 7.8H-7.2Q-8 7.8 -8 7Z" fill="#f0a664"/>
<path d="M-4.4 -0.4Q-5.2 -0.4 -4.9 -1.4L-4 -5Q-3.7 -6 -2.7 -6H3.7Q4.7 -6 5 -5L5.9 -1.4Q6.2 -0.4 5.4 -0.4Z" fill="#fef4ea"/>
<path d="M-6.6 1.9H-4.2L-3.2 3.8H-6.6ZM7.6 1.9H5.2L4.2 3.8H7.6Z" fill="#fbd36a"/>
</g>
<g transform="translate(0.0 0.0)" stroke="#1f5a5e" stroke-width="2.4" stroke-linejoin="round">
<path d="M1457.4 210.2C1468.6 210.2 1477 218.5 1477 228.6C1477 236.4 1472.2 241.6 1465.8 244.6V249.6Q1465.8 251.2 1464.2 251.2H1451.2Q1449.6 251.2 1449.6 249.6V244.6C1442.6 241.6 1438.2 236.4 1438.2 228.6C1438.2 218.5 1446.2 210.2 1457.4 210.2Z" fill="#5ecfcf"/>
<circle cx="1448.6" cy="228.7" r="6.1" fill="#0d1b45" stroke-width="2.1"/>
<circle cx="1464.9" cy="226.9" r="6.6" fill="#0d1b45" stroke-width="2.2"/>
<path d="M1457 234.2L1454.9 239H1459.8Z" fill="#1f5a5e" stroke-width="1.2"/>
<path d="M1455.2 244.6V249.4M1461.3 244.6V249.4" fill="none" stroke-width="1.9"/>
<path d="M1455.8 212.6L1453.3 215.1L1454.6 217.8" fill="none" stroke-width="1.6"/>
</g>
<g transform="translate(2064.0 216.9)">
<path d="M4 21L0.3 28M14.4 21L17.8 28" stroke="#c3cfd6" stroke-width="1.7" fill="none"/>
<path d="M3.4 23.2H14.8M1.6 26.2H16.6" stroke="#c3cfd6" stroke-width="1.5" fill="none"/>
<rect width="18.1" height="21.1" rx="1.8" fill="#e8605a"/>
<rect x="2.9" y="3.6" width="12.6" height="7.4" rx="1.6" fill="#0b1a45"/>
<rect x="2.8" y="3.1" width="12.3" height="6.9" rx="1.5" fill="#c3cfd6"/>
<circle cx="4.4" cy="16.4" r="1.4" fill="#0b1a45"/><circle cx="14.1" cy="16.4" r="1.4" fill="#0b1a45"/>
</g>
<g>
<path d="M2275.4 241.6L2310.8 239.6M2282 243.6L2300 241.2M2287 245.6L2294 243.6" stroke="#080c14" stroke-width="1.2" fill="none"/>
<path d="M2279.8 219.2H2287.5L2310.3 229.7L2311.2 235.8L2310.6 237.2L2288.1 239.7H2276.8L2274.9 233.4Z" fill="#e8707a" stroke="#141014" stroke-width="0.7" stroke-dasharray="1.2 0.8"/>
<path d="M2280.4 219.8H2286.9L2284.4 230.9L2283.2 232.1L2278 231.2Z" fill="#9cd0dc"/>
<path d="M2292.1 224.4L2309.9 232.1L2291.5 232.4Z" fill="#9cd0dc"/>
<path d="M2288.7 238.4L2299.8 237.7L2310.9 235.9V235.2L2290.6 236.7Z" fill="#fbeff0"/>
<circle cx="2276.1" cy="233" r="1.3" fill="#f8e04a"/><circle cx="2283.8" cy="234.3" r="1.2" fill="#f8d84a"/>
</g>
<g transform="translate(0.0 0.0)">
<path d="M2066.3 334.2H2092.6Q2093.6 334.2 2094.2 335.2L2096.7 339.4L2095.2 341.8H2086.5L2084.9 338.7H2066.3A2.25 2.25 0 0 1 2066.3 334.2Z" fill="#e9eaee"/>
<rect x="2066.3" y="343.3" width="17.5" height="15.6" rx="0.8" fill="#f8d26a"/>
<rect x="2066.3" y="343.3" width="5.4" height="15.6" rx="0.8" fill="#edbd55"/>
<rect x="2072.1" y="343.5" width="11.2" height="4.4" fill="#6dc0e8"/>
<rect x="2090.4" y="343.5" width="4.5" height="6.4" fill="#4a4f59"/>
<path d="M2097 349H2102.1V352.6L2100.4 353.7H2098.6L2098 351Z" fill="#fbcf52"/>
<path d="M2084.3 349.3H2096.4Q2098.7 349.3 2098.7 351.6V357.4Q2098.7 359.7 2096.4 359.7H2084.3Z" fill="#686f7b"/>
<circle cx="2071.1" cy="360.1" r="2.8" fill="#e9eaee"/><circle cx="2077.5" cy="360.1" r="2.8" fill="#e9eaee"/><circle cx="2084.3" cy="360.1" r="2.8" fill="#e9eaee"/>
<circle cx="2091" cy="361.2" r="2" fill="#e9eaee"/><circle cx="2096.2" cy="361.2" r="2" fill="#e9eaee"/>
</g>
<g transform="translate(72.1 646.4)">
<path d="M2066.3 334.2H2092.6Q2093.6 334.2 2094.2 335.2L2096.7 339.4L2095.2 341.8H2086.5L2084.9 338.7H2066.3A2.25 2.25 0 0 1 2066.3 334.2Z" fill="#e9eaee"/>
<rect x="2066.3" y="343.3" width="17.5" height="15.6" rx="0.8" fill="#f8d26a"/>
<rect x="2066.3" y="343.3" width="5.4" height="15.6" rx="0.8" fill="#edbd55"/>
<rect x="2072.1" y="343.5" width="11.2" height="4.4" fill="#6dc0e8"/>
<rect x="2090.4" y="343.5" width="4.5" height="6.4" fill="#4a4f59"/>
<path d="M2097 349H2102.1V352.6L2100.4 353.7H2098.6L2098 351Z" fill="#fbcf52"/>
<path d="M2084.3 349.3H2096.4Q2098.7 349.3 2098.7 351.6V357.4Q2098.7 359.7 2096.4 359.7H2084.3Z" fill="#686f7b"/>
<circle cx="2071.1" cy="360.1" r="2.8" fill="#e9eaee"/><circle cx="2077.5" cy="360.1" r="2.8" fill="#e9eaee"/><circle cx="2084.3" cy="360.1" r="2.8" fill="#e9eaee"/>
<circle cx="2091" cy="361.2" r="2" fill="#e9eaee"/><circle cx="2096.2" cy="361.2" r="2" fill="#e9eaee"/>
</g>
<g>
<ellipse cx="2284.5" cy="359.8" rx="2.9" ry="1" fill="#62d8bc"/><ellipse cx="2302.2" cy="359.9" rx="2.9" ry="1" fill="#62d8bc"/>
<path d="M2273.9 336.9H2308.9L2312.4 348.5V357.4H2270V348.5Z" fill="#f8d878"/>
<path d="M2297.4 336.9H2308.9L2312.4 348.5V359.1H2300.2V348.5Z" fill="#f6cd58"/>
<rect x="2270.4" y="349" width="29.8" height="8.8" fill="#4e68ea"/>
<path d="M2300.9 349.8L2304 350.6L2305.6 353L2308 350.4L2310.8 349.4V356.5H2300.9Z" fill="#2848c0"/>
<circle cx="2303.8" cy="354.3" r="1.3" fill="#fff"/><circle cx="2310.2" cy="354.3" r="1.2" fill="#fff"/>
<path d="M2297.7 339.8H2309.2L2311.5 345.6H2300.2Z" fill="#d8aa3e"/>
<path d="M2274.6 340.1H2278.7V345.6H2273.4Z" fill="#fff"/><rect x="2281.1" y="340.1" width="6.1" height="5.5" fill="#fff"/><path d="M2289.3 340.1H2293.8L2294.6 345.6H2289.3Z" fill="#fff"/>
<rect x="2299.6" y="357.2" width="13.5" height="1.9" fill="#f6cd58"/><rect x="2269.1" y="357.2" width="2.9" height="1.7" fill="#f6cd58"/>
<circle cx="2276.8" cy="357.8" r="3.2" fill="#6de8c8"/><circle cx="2276.8" cy="357.8" r="1.6" fill="#fff"/>
<circle cx="2292.8" cy="357.8" r="3.2" fill="#6de8c8"/><circle cx="2292.8" cy="357.8" r="1.6" fill="#fff"/>
</g>
<g transform="translate(1756.0 996.0)">
<circle r="14.6" fill="#4b7fc4"/><circle r="13.2" fill="none" stroke="#fff" stroke-width="1.3"/>
<path d="M-0.4 -9.9Q-1.6 -8.8 -1.6 -7V-3.6L-9 1.4V3.3L-1.6 0V7L-3.8 7.6V8.4H3.2V7.6L1 7V0L9.2 3.8L8.4 1.6L1 -3.6V-7Q1 -8.8 -0.4 -9.9Z" fill="#fff"/>
</g>
</svg>
</body></html>
